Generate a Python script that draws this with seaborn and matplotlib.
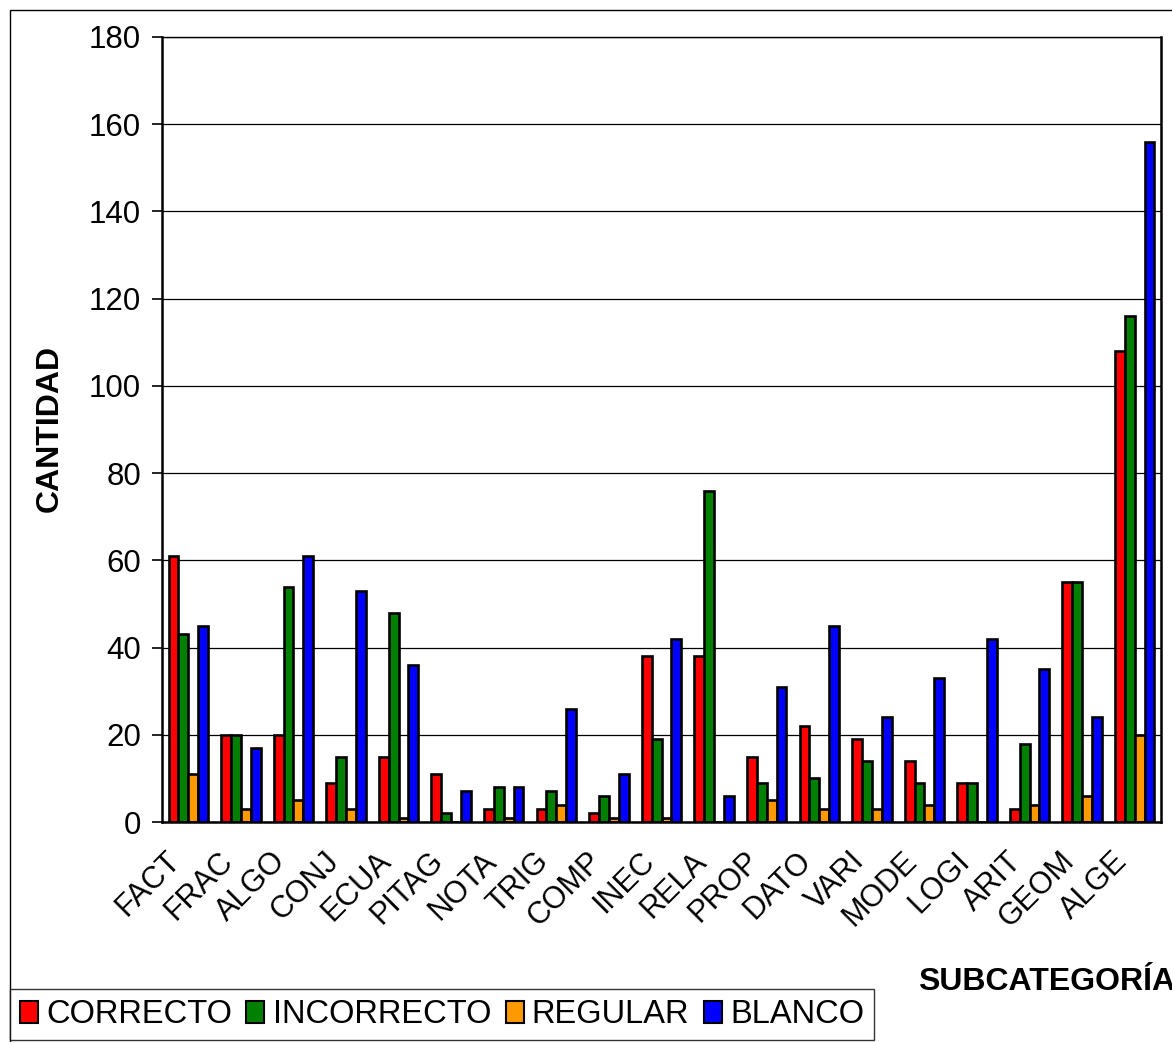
import matplotlib
matplotlib.use("Agg")
import matplotlib.pyplot as plt
import matplotlib.transforms as mtransforms
from matplotlib.patches import Rectangle, Patch
import seaborn as sns
import pandas as pd
import numpy as np

# ---- data ----
categories = ["FACT", "FRAC", "ALGO", "CONJ", "ECUA", "PITAG", "NOTA", "TRIG", "COMP", "INEC",
              "RELA", "PROP", "DATO", "VARI", "MODE", "LOGI", "ARIT", "GEOM", "ALGE"]
correcto   = [61, 20, 20, 9, 15, 11, 3, 3, 2, 38, 38, 15, 22, 19, 14, 9, 3, 55, 108]
incorrecto = [43, 20, 54, 15, 48, 2, 8, 7, 6, 19, 76, 9, 10, 14, 9, 9, 18, 55, 116]
regular    = [11, 3, 5, 3, 1, 0, 1, 4, 1, 1, 0, 5, 3, 3, 4, 0, 4, 6, 20]
blanco     = [45, 17, 61, 53, 36, 7, 8, 26, 11, 42, 6, 31, 45, 24, 33, 42, 35, 24, 156]
series_names = ["CORRECTO", "INCORRECTO", "REGULAR", "BLANCO"]
y_ticks = [0, 20, 40, 60, 80, 100, 120, 140, 160, 180]
y_label = "CANTIDAD"
x_label = "SUBCATEGORÍA"

colors = ["#FF0000", "#008000", "#FF9900", "#0000FF"]

sns.set_theme(style="white")
plt.rcParams["font.family"] = ["Liberation Sans", "DejaVu Sans"]
plt.rcParams["text.color"] = "black"
plt.rcParams["axes.labelcolor"] = "black"
plt.rcParams["xtick.color"] = "black"
plt.rcParams["ytick.color"] = "black"

df = pd.DataFrame({"cat": categories,
                   series_names[0]: correcto,
                   series_names[1]: incorrecto,
                   series_names[2]: regular,
                   series_names[3]: blanco})
long = df.melt(id_vars="cat", var_name="serie", value_name="valor")

W, H = 1172, 1042
fig = plt.figure(figsize=(W / 100, H / 100), dpi=100)
fig.patch.set_facecolor("white")

# outer chart frame
fig.add_artist(Rectangle((10 / W, -0.05), 2.0, (1 - 10 / H) + 0.05,
                         transform=fig.transFigure, fill=False,
                         edgecolor="black", lw=1.0, clip_on=False))

ax = fig.add_axes([162 / W, 1 - 822 / H, (1161 - 162) / W, (822 - 37) / H])
sns.barplot(data=long, x="cat", y="valor", hue="serie", hue_order=series_names,
            order=categories, palette=colors, saturation=1, width=0.75, gap=0,
            edgecolor="black", linewidth=1.9, ax=ax, legend=False, errorbar=None)

ax.set_ylim(0, 180)
ax.set_xlim(-0.5, len(categories) - 0.5)
ax.set_yticks(y_ticks)
ax.set_yticklabels([str(v) for v in y_ticks], fontsize=22.5, color="black")
ax.yaxis.grid(True, color="black", lw=0.9)
ax.xaxis.grid(False)
ax.set_axisbelow(True)

ax.set_xticks(range(len(categories)))
ax.set_xticklabels(categories, rotation=45, ha="right", va="center",
                   rotation_mode="anchor", fontsize=22, color="black")
ax.set_xticks(np.arange(-0.5, len(categories), 1.0), minor=True)
ax.tick_params(axis="x", which="major", length=0, pad=25)
ax.tick_params(axis="x", which="minor", length=6, width=1.2, color="black", direction="out")
ax.tick_params(axis="y", which="major", length=7, width=1.2, color="black",
               direction="out", pad=8, left=True)
offset = mtransforms.ScaledTranslation(-0.12, 0, fig.dpi_scale_trans)
for lab in ax.get_xticklabels():
    lab.set_transform(lab.get_transform() + offset)

for side in ["left", "bottom", "top", "right"]:
    ax.spines[side].set_visible(True)
    ax.spines[side].set_color("black")
ax.spines["left"].set_linewidth(1.8)
ax.spines["bottom"].set_linewidth(1.8)
ax.spines["top"].set_linewidth(1.0)
ax.spines["right"].set_linewidth(1.8)

ax.set_xlabel("")
ax.set_ylabel("")
fig.text(50 / W, 1 - 428 / H, y_label, rotation=90, ha="center", va="center",
         fontsize=23, fontweight="bold", color="black")
fig.text(918 / W, 1 - 982 / H, x_label, ha="left", va="center",
         fontsize=23, fontweight="bold", color="black")

handles = [Patch(facecolor=c, edgecolor="black", lw=1.5) for c in colors]
leg = fig.legend(handles, series_names, loc="lower left",
                 bbox_to_anchor=(10 / W, 2 / H), ncol=4, frameon=True,
                 fancybox=False, edgecolor="black", fontsize=23.5,
                 handlelength=0.55, handleheight=0.65, handletextpad=0.25,
                 columnspacing=0.45, borderpad=0.3, borderaxespad=0)
leg.get_frame().set_linewidth(1.0)
for t in leg.get_texts():
    t.set_color("black")

fig.savefig("out.png", dpi=100)
